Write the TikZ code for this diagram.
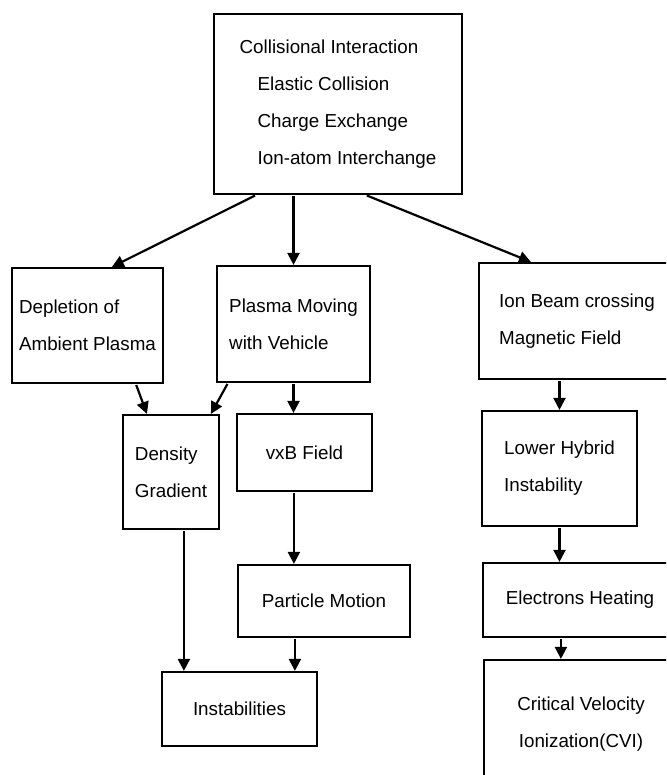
\documentclass[tikz,border=0pt]{standalone}
\usepackage{fontspec}
\setmainfont{Liberation Sans}
\usepackage{tikz}
\usetikzlibrary{arrows.meta,positioning,calc}
\tikzset{
    >={Triangle[length=6pt,width=6pt]},
    every picture/.style={font=\fontsize{9.4}{18.5}\selectfont},
    box/.style={draw, line width=1.1pt, align=left, inner sep=0pt},
    link/.style={->, line width=1.1pt, shorten <=0.5pt}
}
\begin{document}
\begin{tikzpicture}[x=0.5pt, y=-0.5pt]
\useasboundingbox (0,0) rectangle (666,775);
\clip (0,0) rectangle (666,775);
\node[box, minimum width=124pt, minimum height=90pt] (coll) at (338,104) {Collisional Interaction\\\hspace*{9pt}Elastic Collision\\\hspace*{9pt}Charge Exchange\\\hspace*{9pt}Ion-atom Interchange};
\node[box, minimum width=75.5pt, minimum height=57.5pt] (deplete) at (87.5,325.5) {Depletion of\\Ambient Plasma};
\node[box, minimum width=76.5pt, minimum height=58pt] (moving) at (293.5,324) {Plasma Moving\\with Vehicle};
\node[box, minimum width=98pt, minimum height=58pt] (beam) at (577,321) {Ion Beam crossing\\Magnetic Field};
\node[box, minimum width=48pt, minimum height=57pt] (density) at (171,472) {Density\\Gradient};
\node[box, minimum width=67.5pt, minimum height=38.5pt] (vxb) at (304.5,452.5) {vxB Field};
\node[box, minimum width=86pt, minimum height=36pt] (particle) at (324,601) {Particle Motion};
\node[box, minimum width=77.5pt, minimum height=37pt] (instab) at (239.5,709) {Instabilities};
\node[box, minimum width=77.5pt, minimum height=57.5pt] (hybrid) at (559.5,468.5) {Lower Hybrid\\Instability};
\node[box, minimum width=97pt, minimum height=37pt] (heating) at (580,600) {Electrons Heating};
\node[box, align=center, minimum width=97pt, minimum height=64pt] (cvi) at (581,724) {Critical Velocity\\Ionization(CVI)};
\draw[link] ([xshift=21.5pt]coll.south west) -- ([xshift=50.5pt]deplete.north west);
\draw[link] (coll.south -| moving.north) -- (moving.north);
\draw[link] ([xshift=76.5pt]coll.south west) -- ([xshift=26.5pt]beam.north west);
\draw[link] ([xshift=62.5pt]deplete.south west) -- ([xshift=12.5pt]density.north west);
\draw[link] ([xshift=6pt]moving.south west) -- ([xshift=44.5pt]density.north west);
\draw[link] (moving.south) -- (moving.south |- vxb.north);
\draw[link] ([xshift=29pt]vxb.south west) -- ([xshift=29pt]vxb.south west |- particle.north);
\draw[link] ([xshift=31pt]density.south west) -- ([xshift=31pt]density.south west |- instab.north);
\draw[link] ([xshift=29pt]particle.south west) -- ([xshift=29pt]particle.south west |- instab.north);
\draw[link] (beam.south -| hybrid.north) -- (hybrid.north);
\draw[link] (hybrid.south) -- (hybrid.south |- heating.north);
\draw[link] ([xshift=39.5pt]heating.south west) -- ([xshift=39.5pt]heating.south west |- cvi.north);
\end{tikzpicture}
\end{document}
